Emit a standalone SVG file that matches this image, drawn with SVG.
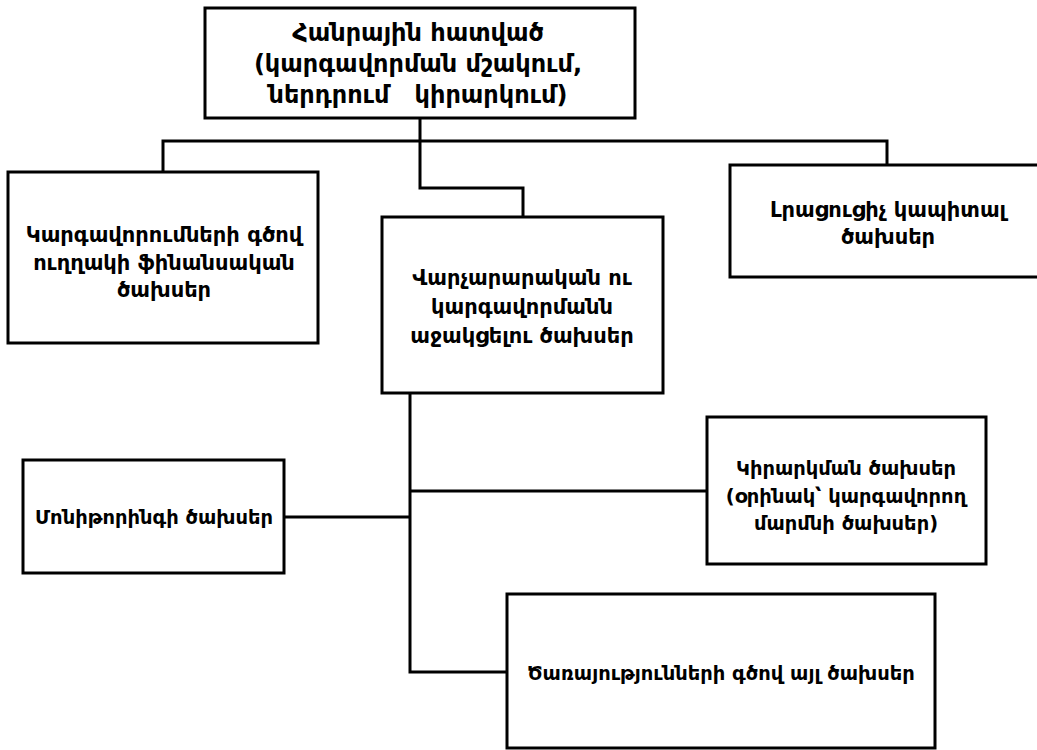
<svg xmlns="http://www.w3.org/2000/svg" width="1037" height="750" viewBox="0 0 1037 750">
<style>
.box{fill:#fff;stroke:#000;stroke-width:3}
.ln{fill:none;stroke:#000;stroke-width:3}
text{font-family:"DejaVu Sans","Noto Sans",sans-serif;font-weight:bold;fill:#000;text-anchor:middle;white-space:pre}
.t1{font-size:24px}
.t2{font-size:21px}
.t3{font-size:19.5px}
</style>
<rect width="1037" height="750" fill="#fff"/>
<g id="connectors">
<path class="ln" d="M420,118 V188 H523 V217"/>
<path class="ln" d="M163,172 V141 H887 V165"/>
<path class="ln" d="M410,393 V672 H507"/>
<path class="ln" d="M410,491 H707"/>
<path class="ln" d="M284,517 H410"/>
</g>
<g id="public-sector">
<rect class="box" x="205" y="8" width="430" height="110"/>
<text class="t1" x="418" y="41">Հանրային հատված</text>
<text class="t1" x="418" y="72">(կարգավորման մշակում,</text>
<text class="t1" x="418" y="103" xml:space="preserve">ներդրում   կիրարկում)</text>
</g>
<g id="direct-financial">
<rect class="box" x="8" y="172" width="310" height="171"/>
<text class="t2" x="164" y="242">Կարգավորումների գծով</text>
<text class="t2" x="164" y="270">ուղղակի ֆինանսական</text>
<text class="t2" x="164" y="297">ծախսեր</text>
</g>
<g id="administrative">
<rect class="box" x="382" y="217" width="281" height="176"/>
<text class="t2" x="522" y="285">Վարչարարական ու</text>
<text class="t2" x="522" y="314">կարգավորմանն</text>
<text class="t2" x="522" y="343">աջակցելու ծախսեր</text>
</g>
<g id="capital">
<rect class="box" x="730" y="165" width="318" height="112"/>
<text class="t2" x="888" y="217">Լրացուցիչ կապիտալ</text>
<text class="t2" x="888" y="244">ծախսեր</text>
</g>
<g id="monitoring">
<rect class="box" x="23" y="460" width="261" height="113"/>
<text class="t3" x="154" y="524">Մոնիթորինգի ծախսեր</text>
</g>
<g id="enforcement">
<rect class="box" x="707" y="417" width="279" height="147"/>
<text class="t3" x="846" y="475">Կիրարկման ծախսեր</text>
<text class="t3" x="846" y="503">(օրինակ՝ կարգավորող</text>
<text class="t3" x="846" y="530">մարմնի ծախսեր)</text>
</g>
<g id="services">
<rect class="box" x="507" y="594" width="428" height="154"/>
<text class="t3" x="721" y="680">Ծառայությունների գծով այլ ծախսեր</text>
</g>
</svg>
